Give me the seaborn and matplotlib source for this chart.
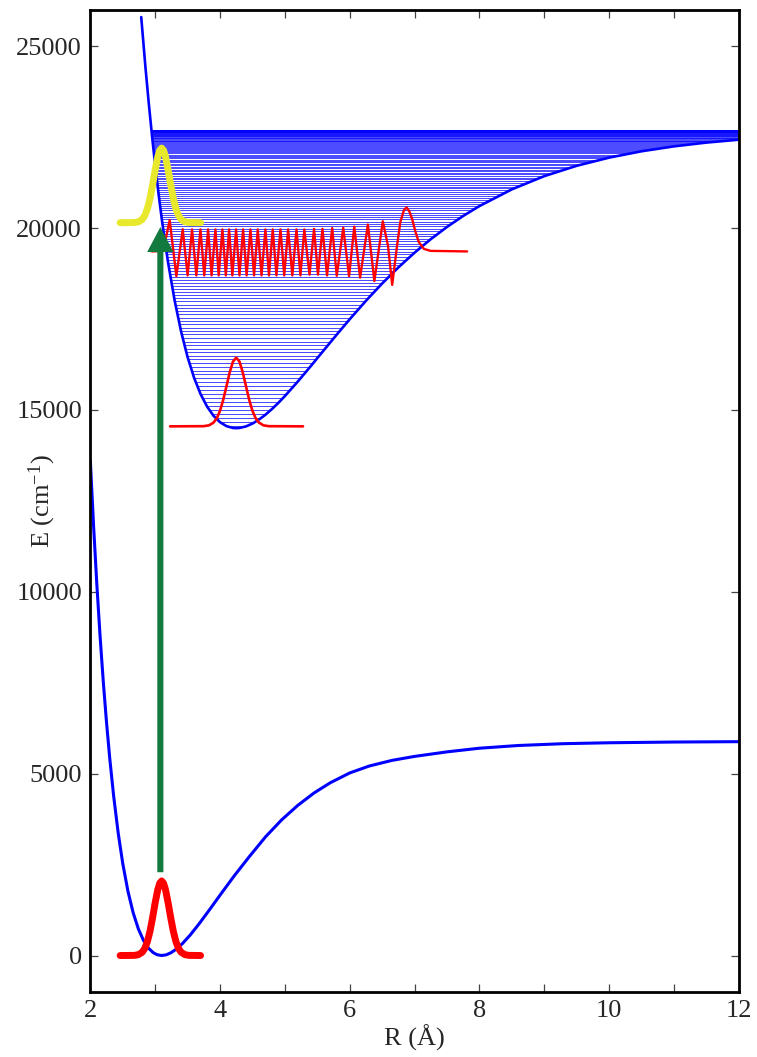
import matplotlib
matplotlib.use("Agg")
import matplotlib.pyplot as plt
import seaborn as sns
from matplotlib.patches import Polygon, FancyArrowPatch
from matplotlib.ticker import MultipleLocator

# Ground electronic state potential: R (Å), E (cm^-1)
ground_R = [2.00, 2.05, 2.10, 2.15, 2.20, 2.25, 2.30, 2.36, 2.43, 2.50, 2.58, 2.66,
            2.74, 2.82, 2.90, 2.97, 3.03, 3.10, 3.17, 3.24, 3.32, 3.42, 3.54, 3.68,
            3.84, 4.02, 4.22, 4.45, 4.70, 4.95, 5.20, 5.45, 5.70, 6.00, 6.30, 6.65,
            7.00, 7.50, 8.00, 8.60, 9.30, 10.0, 11.0, 12.0]
ground_E = [13617, 11826, 10224, 8798, 7530, 6407, 5416, 4383, 3368, 2533, 1770, 1180,
            736, 415, 197, 79, 22, 0, 19, 73, 168, 328, 563, 878,
            1264, 1708, 2193, 2715, 3260, 3730, 4130, 4470, 4750, 5020, 5210, 5365,
            5475, 5600, 5700, 5775, 5825, 5850, 5870, 5880]

# Excited electronic state potential
upper_R = [2.785, 2.85, 2.90, 2.95, 3.00, 3.05, 3.10, 3.15, 3.20, 3.30, 3.40, 3.50,
           3.60, 3.70, 3.80, 3.90, 4.00, 4.10, 4.20, 4.25, 4.30, 4.40, 4.50, 4.60,
           4.70, 4.80, 4.90, 5.00, 5.20, 5.40, 5.60, 5.80, 6.00, 6.25, 6.50, 6.75,
           7.00, 7.25, 7.50, 7.75, 8.00, 8.50, 9.00, 9.50, 10.0, 10.5, 11.0, 11.5, 12.0]
upper_E = [25804, 24428, 23460, 22565, 21739, 20979, 20279, 19636, 19047, 18013, 17156, 16454,
           15887, 15439, 15095, 14841, 14665, 14556, 14506, 14500, 14506, 14548, 14626, 14735,
           14869, 15025, 15196, 15382, 15783, 16208, 16642, 17073, 17496, 18002, 18478, 18920,
           19326, 19697, 20033, 20336, 20607, 21067, 21430, 21715, 21939, 22114, 22249, 22353, 22432]

# Bound vibrational levels of the excited state (cm^-1)
upper_levels = [
    14557, 14672, 14785, 14898, 15009, 15120, 15230, 15340, 15448, 15556,
    15663, 15769, 15875, 15979, 16083, 16186, 16288, 16389, 16490, 16589,
    16688, 16786, 16883, 16980, 17076, 17170, 17264, 17358, 17450, 17542,
    17633, 17723, 17812, 17900, 17988, 18075, 18161, 18246, 18330, 18414,
    18496, 18578, 18660, 18740, 18819, 18898, 18976, 19053, 19130, 19205,
    19280, 19354, 19427, 19499, 19570, 19641, 19711, 19780, 19848, 19916,
    19982, 20048, 20113, 20178, 20241, 20304, 20365, 20426, 20487, 20546,
    20604, 20662, 20719, 20775, 20830, 20885, 20938, 20991, 21043, 21095,
    21145, 21195, 21244, 21292, 21339, 21386, 21431, 21476, 21520, 21564,
    21606, 21648, 21689, 21729, 21768, 21806, 21844, 21881, 21917, 21952,
    21986, 22020, 22053, 22085, 22116, 22146, 22176, 22204, 22232, 22259,
    22286, 22311, 22336, 22360, 22383, 22405, 22427, 22447, 22467, 22486,
    22504, 22522, 22539, 22554, 22569, 22584, 22597, 22610, 22621, 22632,
    22643, 22652, 22661, 22668, 22675, 22682, 22687, 22691, 22695, 22698,
    22700, 22702]

# Ground vibrational wavefunction (drawn on E = 0)
psi0_R = [2.46, 2.68, 2.74, 2.80, 2.84, 2.88, 2.92, 2.96, 3.00, 3.04, 3.07, 3.10,
          3.13, 3.16, 3.20, 3.24, 3.28, 3.32, 3.36, 3.40, 3.46, 3.52, 3.70]
psi0_E = [0, 4, 23, 90, 196, 382, 666, 1038, 1449, 1809, 1987, 2050,
          1987, 1809, 1449, 1038, 666, 382, 196, 90, 23, 4, 0]

# Same packet projected vertically onto the excited state
packet_base = 20150
packet_E = [packet_base + e for e in psi0_E]

# Excited-state v = 0 wavefunction
v0_R = [3.23, 3.75, 3.83, 3.90, 3.95, 4.00, 4.05, 4.10, 4.15, 4.20, 4.25,
        4.30, 4.35, 4.40, 4.45, 4.50, 4.55, 4.60, 4.67, 4.75, 5.28]
v0_E = [14550, 14555, 14578, 14653, 14772, 14978, 15280, 15657, 16040, 16331, 16440,
        16331, 16040, 15657, 15280, 14978, 14772, 14653, 14578, 14555, 14550]

# Highly excited vibrational wavefunction near the Franck-Condon region
vhi_R = [2.95, 3.10, 3.14, 3.18, 3.224, 3.327, 3.425, 3.50, 3.569, 3.635, 3.698, 3.757,
         3.816, 3.87, 3.929, 3.98, 4.037, 4.09, 4.14, 4.19, 4.248, 4.30, 4.356, 4.41,
         4.469, 4.525, 4.582, 4.64, 4.70, 4.755, 4.813, 4.87, 4.932, 4.99, 5.05, 5.115,
         5.179, 5.24, 5.30, 5.38, 5.45, 5.51, 5.58, 5.65, 5.73, 5.80, 5.90, 5.99,
         6.07, 6.16, 6.28, 6.38, 6.51, 6.59, 6.655, 6.73, 6.78, 6.835, 6.876, 6.92,
         6.964, 7.015, 7.066, 7.143, 7.246, 7.81]
vhi_E = [19360, 19370, 19500, 19850, 20220, 18680, 19970, 18700, 19965, 18700, 19965, 18700,
         19965, 18700, 19965, 18700, 19965, 18700, 19965, 18700, 19965, 18700, 19965, 18700,
         19965, 18700, 19965, 18700, 19965, 18700, 19965, 18700, 19965, 18700, 19965, 18700,
         19965, 18700, 19965, 18720, 19980, 18720, 19980, 18700, 20000, 18690, 20010, 18680,
         20040, 18640, 20100, 18545, 20190, 19520, 18440, 19520, 20165, 20490, 20570, 20460,
         20240, 19890, 19615, 19430, 19375, 19360]

# Vertical excitation
arrow_R = 3.08
arrow_E = [2290, 20030]

x_ticks = [2, 4, 6, 8, 10, 12]
y_ticks = [0, 5000, 10000, 15000, 20000, 25000]

sns.set_theme(style="white")
plt.rcParams["font.family"] = ["Liberation Serif", "DejaVu Serif"]
plt.rcParams["mathtext.fontset"] = "custom"
plt.rcParams["mathtext.rm"] = "Liberation Serif"
plt.rcParams["mathtext.it"] = "Liberation Serif:italic"

BLUE = "#0000ff"
RED = "#ff0000"
YELLOW = "#e8e82c"
GREEN = "#137a3f"

fig = plt.figure(figsize=(7.57, 10.57), dpi=100)
ax = fig.add_axes([0.1193, 0.0616, 0.8567, 0.9290])

# vibrational ladder, clipped to the inside of the excited-state well
well = Polygon(list(zip(upper_R, upper_E)) + [(12.0, 27000), (upper_R[0], 27000)],
               closed=True, transform=ax.transData)
levels = ax.hlines(upper_levels, 2.0, 12.0, colors=BLUE, linewidths=0.5, zorder=1)
levels.set_clip_path(well)

sns.lineplot(x=ground_R, y=ground_E, ax=ax, color=BLUE, lw=2.2, sort=False,
             estimator=None, zorder=2)
sns.lineplot(x=upper_R, y=upper_E, ax=ax, color=BLUE, lw=1.9, sort=False,
             estimator=None, zorder=2)

sns.lineplot(x=v0_R, y=v0_E, ax=ax, color=RED, lw=1.9, sort=False,
             estimator=None, zorder=3)
sns.lineplot(x=vhi_R, y=vhi_E, ax=ax, color=RED, lw=1.7, sort=False,
             estimator=None, zorder=3)
sns.lineplot(x=psi0_R, y=psi0_E, ax=ax, color=RED, lw=5.0, sort=False,
             estimator=None, zorder=4)
sns.lineplot(x=psi0_R, y=packet_E, ax=ax, color=YELLOW, lw=5.0, sort=False,
             estimator=None, zorder=4)

arrow = FancyArrowPatch((arrow_R, arrow_E[0]), (arrow_R, arrow_E[1]),
                        arrowstyle="simple,head_length=0.9,head_width=0.95,tail_width=0.22",
                        mutation_scale=20, color=GREEN, lw=0,
                        shrinkA=0, shrinkB=0, zorder=5)
ax.add_patch(arrow)

ax.set_xlim(2, 12)
ax.set_ylim(-1000, 26000)
ax.set_xticks(x_ticks)
ax.xaxis.set_minor_locator(MultipleLocator(1))
ax.set_yticks(y_ticks)
ax.set_xticklabels([str(t) for t in x_ticks])
ax.set_yticklabels([str(t) for t in y_ticks])
ax.tick_params(axis="both", which="both", direction="in", top=True, right=True,
               bottom=True, left=True, length=6, width=0.9, color="#444444",
               labelsize=19, pad=6)
for s in ax.spines.values():
    s.set_linewidth(2.0)
    s.set_color("black")

ax.set_xlabel("R (Å)", fontsize=19, labelpad=2)
ax.set_ylabel(r"E (cm$^{\mathrm{-1}}$)", fontsize=19)
ax.yaxis.set_label_coords(-0.05, 0.5)

fig.savefig("out.png", dpi=100)
